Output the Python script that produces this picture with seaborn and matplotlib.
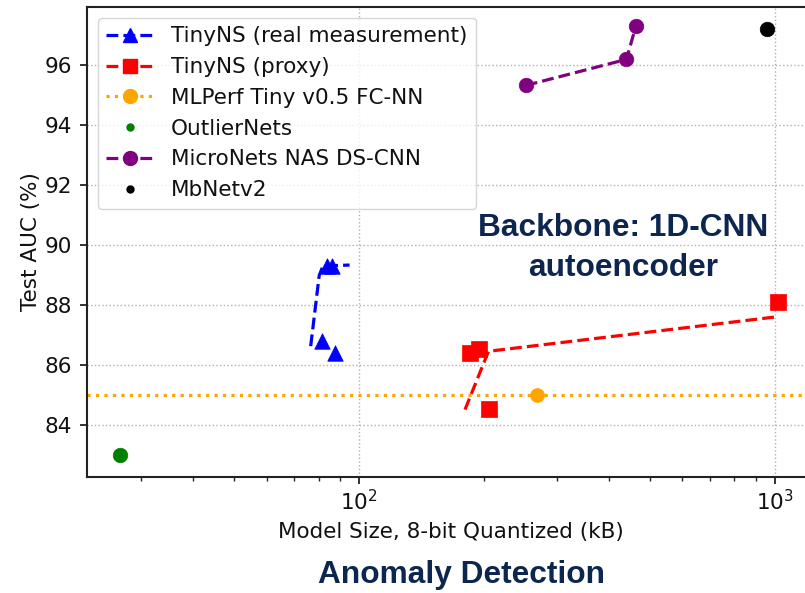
import matplotlib
matplotlib.use("Agg")
import matplotlib.pyplot as plt
from matplotlib.lines import Line2D
import seaborn as sns
import numpy as np

# ---- data ----
tinyns_real_x = [81.6, 87.5, 83.8, 86.1]
tinyns_real_y = [86.78, 86.38, 89.30, 89.30]
tinyns_real_line_x = [76.6, 80.3, 82.0, 95.0]
tinyns_real_line_y = [86.62, 88.98, 89.30, 89.33]

tinyns_proxy_x = [184.9, 194.3, 206.0, 1019.0]
tinyns_proxy_y = [86.40, 86.51, 84.51, 88.10]
tinyns_proxy_line_x = [180.0, 205.0, 1010.0]
tinyns_proxy_line_y = [84.50, 86.45, 87.60]

mlperf_x = [268.9]
mlperf_y = [85.0]

outlier_x = [26.7]
outlier_y = [83.0]

micronets_x = [252.0, 440.0, 463.5]
micronets_y = [95.33, 96.20, 97.31]

mbnet_x = [958.7]
mbnet_y = [97.22]

labels = ["TinyNS (real measurement)", "TinyNS (proxy)", "MLPerf Tiny v0.5 FC-NN",
          "OutlierNets", "MicroNets NAS DS-CNN", "MbNetv2"]

sns.set_theme(style="ticks")
plt.rcParams['font.family'] = ['DejaVu Sans']

fig = plt.figure(figsize=(8.05, 5.93), dpi=100)
ax = fig.add_axes([87/805, 1 - 477/593, 728/805, (477 - 7)/593])

lw = 2.3
# lines
sns.lineplot(x=tinyns_real_line_x, y=tinyns_real_line_y, ax=ax, color='blue',
             linestyle='--', linewidth=lw, estimator=None, sort=False)
sns.lineplot(x=tinyns_proxy_line_x, y=tinyns_proxy_line_y, ax=ax, color='red',
             linestyle='--', linewidth=lw, estimator=None, sort=False)
sns.lineplot(x=micronets_x, y=micronets_y, ax=ax, color='purple',
             linestyle='--', linewidth=lw, estimator=None, sort=False)
ax.axhline(mlperf_y[0], color='orange', linestyle=':', linewidth=lw)

# markers
sns.scatterplot(x=tinyns_real_x, y=tinyns_real_y, ax=ax, marker='^', s=125,
                color='blue', edgecolor='blue', linewidth=0.5, zorder=3)
sns.scatterplot(x=tinyns_proxy_x, y=tinyns_proxy_y, ax=ax, marker='s', s=120,
                color='red', edgecolor='red', linewidth=0.5, zorder=3)
sns.scatterplot(x=mlperf_x, y=mlperf_y, ax=ax, marker='o', s=100,
                color='orange', edgecolor='orange', linewidth=0.5, zorder=3)
sns.scatterplot(x=outlier_x, y=outlier_y, ax=ax, marker='o', s=110,
                color='green', edgecolor='green', linewidth=0.5, zorder=3)
sns.scatterplot(x=micronets_x, y=micronets_y, ax=ax, marker='o', s=110,
                color='purple', edgecolor='purple', linewidth=0.5, zorder=3)
sns.scatterplot(x=mbnet_x, y=mbnet_y, ax=ax, marker='o', s=110,
                color='black', edgecolor='black', linewidth=0.5, zorder=3)

ax.set_xscale('log')
ax.set_xlim(22.2, 1250)
ax.set_ylim(82.25, 97.95)
ax.set_yticks([84, 86, 88, 90, 92, 94, 96])
ax.grid(True, which='major', linestyle=':', color='#b0b0b0', linewidth=1.0)
ax.tick_params(axis='both', which='major', labelsize=15.5, length=5, width=1.2,
               direction='out', colors='#111111')
ax.tick_params(axis='y', which='major', pad=6)
ax.tick_params(axis='x', which='minor', length=3, width=1.0, direction='out')
for sp in ['left', 'bottom', 'top']:
    ax.spines[sp].set_color('#222222')
    ax.spines[sp].set_linewidth(1.5)
ax.spines['right'].set_visible(False)

ax.set_xlabel("Model Size, 8-bit Quantized (kB)", fontsize=15.5, labelpad=6, color='#111111')
ax.set_ylabel("Test AUC (%)", fontsize=15.5, labelpad=2, color='#111111')

handles = [
    Line2D([], [], color='blue', linestyle='--', linewidth=lw, marker='^', markersize=10),
    Line2D([], [], color='red', linestyle='--', linewidth=lw, marker='s', markersize=10),
    Line2D([], [], color='orange', linestyle=':', linewidth=lw, marker='o', markersize=10),
    Line2D([], [], color='green', linestyle='none', marker='o', markersize=5),
    Line2D([], [], color='purple', linestyle='--', linewidth=lw, marker='o', markersize=10),
    Line2D([], [], color='black', linestyle='none', marker='o', markersize=5),
]
leg = ax.legend(handles, labels, loc='upper left', fontsize=15.5, labelspacing=0.5,
                frameon=True, fancybox=True, framealpha=0.8, edgecolor='#cccccc',
                handlelength=2.2)
for t in leg.get_texts():
    t.set_color('#111111')

navy = '#0c2650'
fig.text(623/805, 1 - 228/593, "Backbone: 1D-CNN", ha='center', va='center',
         fontsize=22.8, fontweight='bold', color=navy, family='Liberation Sans')
fig.text(623/805, 1 - 268/593, "autoencoder", ha='center', va='center',
         fontsize=22.8, fontweight='bold', color=navy, family='Liberation Sans')
fig.text(461/805, 1 - 575/593, "Anomaly Detection", ha='center', va='center',
         fontsize=22.8, fontweight='bold', color=navy, family='Liberation Sans')

fig.savefig("out.png", dpi=100)
